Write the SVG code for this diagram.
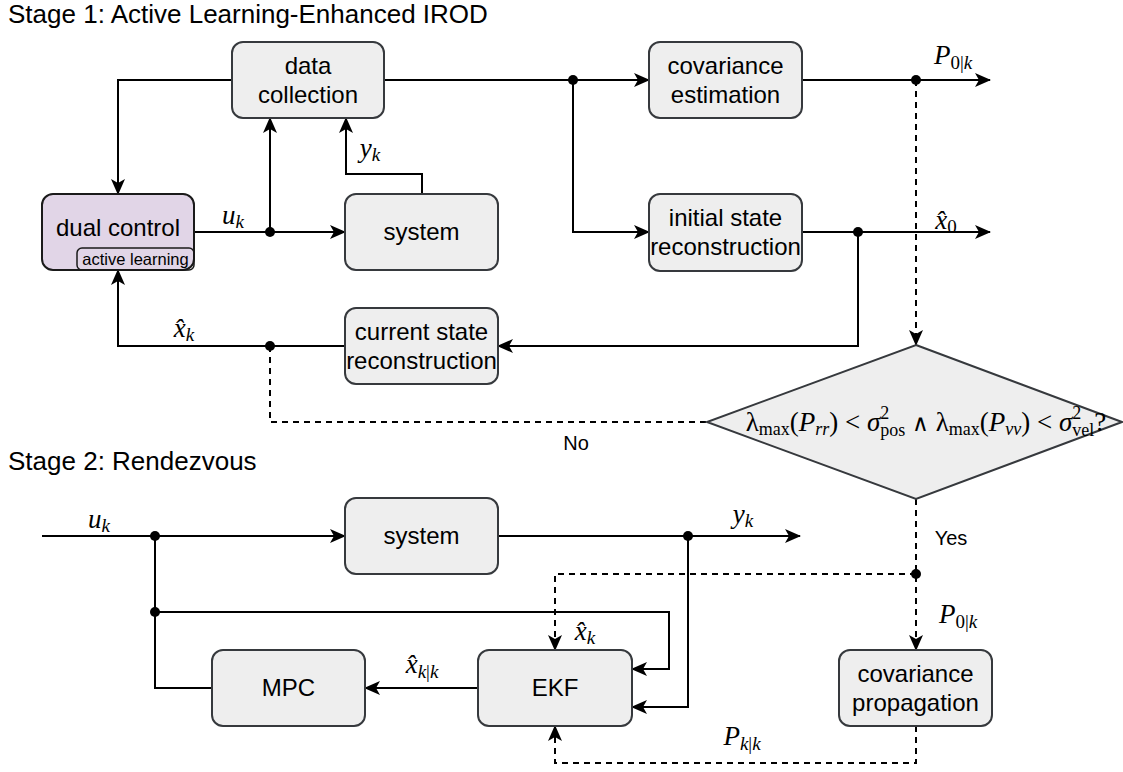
<svg xmlns="http://www.w3.org/2000/svg" width="1123" height="772" viewBox="0 0 1123 772">
  <style>
    .box { fill: #eeeeee; stroke: #36393d; stroke-width: 2; }
    .dual { fill: #e1d5e7; stroke: #1a1a1a; stroke-width: 2; }
    .sub { fill: none; stroke: #1a1a1a; stroke-width: 1.5; }
    .lbl { font-family: "Liberation Sans", Arial, sans-serif; font-size: 24px; fill: #000; text-anchor: middle; }
    .small { font-family: "Liberation Sans", Arial, sans-serif; font-size: 16.5px; fill: #000; text-anchor: middle; }
    .title { font-family: "Liberation Sans", Arial, sans-serif; font-size: 26px; fill: #000; }
    .note { font-family: "Liberation Sans", Arial, sans-serif; font-size: 20px; fill: #000; text-anchor: middle; }
    .math { font-family: "Liberation Serif", "DejaVu Serif", serif; font-size: 27px; fill: #000; text-anchor: middle; }
    .it { font-style: italic; }
    .wire { fill: none; stroke: #000; stroke-width: 2; }
    .dash { fill: none; stroke: #000; stroke-width: 2; stroke-dasharray: 6 5; }
    .dot { fill: #000; }
  </style>
  <defs>
    <marker id="arrow" viewBox="0 0 16 16" refX="15" refY="8" markerWidth="16" markerHeight="16" markerUnits="userSpaceOnUse" orient="auto">
      <path d="M0,1 L16,8 L0,15 L4,8 Z" fill="#000"/>
    </marker>
  </defs>

  <rect width="1123" height="772" fill="#ffffff"/>

  <!-- section titles -->
  <text class="title" x="8" y="23">Stage 1: Active Learning-Enhanced IROD</text>
  <text class="title" x="8" y="470">Stage 2: Rendezvous</text>

  <!-- connectors -->
  <g id="connectors">
    <!-- stage 1 -->
    <path class="wire" d="M232,80 H118 V194" marker-end="url(#arrow)"/>
    <path class="wire" d="M194,232 H345" marker-end="url(#arrow)"/>
    <path class="wire" d="M270,232 V118" marker-end="url(#arrow)"/>
    <path class="wire" d="M422,194 V174 H346 V118" marker-end="url(#arrow)"/>
    <path class="wire" d="M384,80 H649" marker-end="url(#arrow)"/>
    <path class="wire" d="M573,80 V232 H649" marker-end="url(#arrow)"/>
    <path class="wire" d="M802,80 H990" marker-end="url(#arrow)"/>
    <path class="wire" d="M802,232 H990" marker-end="url(#arrow)"/>
    <path class="wire" d="M858,232 V346 H498" marker-end="url(#arrow)"/>
    <path class="wire" d="M345,346 H118 V270" marker-end="url(#arrow)"/>
    <path class="dash" d="M270,346 V422 H707"/>
    <path class="dash" d="M916,80 V345" marker-end="url(#arrow)"/>
    <!-- stage 2 -->
    <path class="dash" d="M916,499 V650" marker-end="url(#arrow)"/>
    <path class="wire" d="M42,536 H345" marker-end="url(#arrow)"/>
    <path class="wire" d="M498,536 H800" marker-end="url(#arrow)"/>
    <path class="wire" d="M155,536 V688 H212"/>
    <path class="wire" d="M155,612 H669 V669 H632" marker-end="url(#arrow)"/>
    <path class="wire" d="M688,536 V707 H632" marker-end="url(#arrow)"/>
    <path class="wire" d="M478,688 H365" marker-end="url(#arrow)"/>
    <path class="dash" d="M916,574 H555 V650" marker-end="url(#arrow)"/>
    <path class="dash" d="M916,726 V763 H555 V726" marker-end="url(#arrow)"/>

    <!-- junction dots -->
    <circle class="dot" cx="270" cy="232" r="5"/>
    <circle class="dot" cx="573" cy="80" r="5"/>
    <circle class="dot" cx="916" cy="80" r="5"/>
    <circle class="dot" cx="858" cy="232" r="5"/>
    <circle class="dot" cx="270" cy="346" r="5"/>
    <circle class="dot" cx="155" cy="536" r="5"/>
    <circle class="dot" cx="155" cy="612" r="5"/>
    <circle class="dot" cx="688" cy="536" r="5"/>
    <circle class="dot" cx="916" cy="574" r="5"/>

    <!-- signal labels -->
    <text class="math it" x="233" y="224">u<tspan font-size="19" dy="4">k</tspan></text>
    <text class="math it" x="370" y="157">y<tspan font-size="19" dy="4">k</tspan></text>
    <text class="math it" x="953" y="64">P<tspan font-size="19" dy="5" font-style="normal">0|</tspan><tspan font-size="19">k</tspan></text>
    <text class="math it" x="946" y="229">x̂<tspan font-size="19" dy="4" font-style="normal">0</tspan></text>
    <text class="math it" x="184" y="337">x̂<tspan font-size="19" dy="4">k</tspan></text>
    <text class="note" x="576" y="450">No</text>
    <text class="note" x="951" y="545">Yes</text>
    <text class="math it" x="99" y="528">u<tspan font-size="19" dy="4">k</tspan></text>
    <text class="math it" x="743" y="523">y<tspan font-size="19" dy="4">k</tspan></text>
    <text class="math it" x="585" y="640">x̂<tspan font-size="19" dy="4">k</tspan></text>
    <text class="math it" x="958" y="623">P<tspan font-size="19" dy="5" font-style="normal">0|</tspan><tspan font-size="19">k</tspan></text>
    <text class="math it" x="422" y="673">x̂<tspan font-size="19" dy="5">k</tspan><tspan font-size="19" font-style="normal">|</tspan><tspan font-size="19">k</tspan></text>
    <text class="math it" x="742" y="745">P<tspan font-size="19" dy="5">k</tspan><tspan font-size="19" font-style="normal">|</tspan><tspan font-size="19">k</tspan></text>
  </g>

  <!-- stage 1 nodes -->
  <g id="data-collection">
    <rect class="box" x="232" y="42" width="152" height="76" rx="11"/>
    <text class="lbl" x="308" y="74">data</text>
    <text class="lbl" x="308" y="103">collection</text>
  </g>
  <g id="dual-control">
    <rect class="dual" x="42" y="194" width="152" height="76" rx="11"/>
    <text class="lbl" x="118" y="236">dual control</text>
    <rect class="sub" x="77" y="248" width="117" height="22" rx="5"/>
    <text class="small" x="135.5" y="265">active learning</text>
  </g>
  <g id="system-1">
    <rect class="box" x="345" y="194" width="153" height="76" rx="11"/>
    <text class="lbl" x="421.5" y="240">system</text>
  </g>
  <g id="covariance-estimation">
    <rect class="box" x="649" y="42" width="153" height="76" rx="11"/>
    <text class="lbl" x="725.5" y="74">covariance</text>
    <text class="lbl" x="725.5" y="103">estimation</text>
  </g>
  <g id="initial-state-reconstruction">
    <rect class="box" x="649" y="194" width="153" height="77" rx="11"/>
    <text class="lbl" x="725.5" y="226">initial state</text>
    <text class="lbl" x="725.5" y="255">reconstruction</text>
  </g>
  <g id="current-state-reconstruction">
    <rect class="box" x="345" y="308" width="153" height="76" rx="11"/>
    <text class="lbl" x="421.5" y="340">current state</text>
    <text class="lbl" x="421.5" y="369">reconstruction</text>
  </g>
  <g id="convergence-check">
    <polygon class="box" points="916,345 1122,422 916,499 707,422"/>
    <text class="math" x="926" y="431" font-size="28"><tspan>λ</tspan><tspan font-size="18" dy="4">max</tspan><tspan dy="-4">(</tspan><tspan class="it">P</tspan><tspan class="it" font-size="18" dy="4">rr</tspan><tspan dy="-4">) &lt; </tspan><tspan class="it">σ</tspan><tspan font-size="18" dy="-12">2</tspan><tspan font-size="18" dx="-9" dy="17">pos</tspan><tspan dy="-5"> </tspan><tspan font-family="DejaVu Serif, serif" font-size="23">∧</tspan><tspan> λ</tspan><tspan font-size="18" dy="4">max</tspan><tspan dy="-4">(</tspan><tspan class="it">P</tspan><tspan class="it" font-size="18" dy="4">vv</tspan><tspan dy="-4">) &lt; </tspan><tspan class="it">σ</tspan><tspan font-size="18" dy="-12">2</tspan><tspan font-size="18" dx="-9" dy="17">vel</tspan><tspan dy="-5">?</tspan></text>
  </g>

  <!-- stage 2 nodes -->
  <g id="system-2">
    <rect class="box" x="345" y="498" width="153" height="76" rx="11"/>
    <text class="lbl" x="421.5" y="544">system</text>
  </g>
  <g id="mpc">
    <rect class="box" x="212" y="650" width="153" height="76" rx="11"/>
    <text class="lbl" x="288.5" y="696">MPC</text>
  </g>
  <g id="ekf">
    <rect class="box" x="478" y="650" width="154" height="76" rx="11"/>
    <text class="lbl" x="555" y="696">EKF</text>
  </g>
  <g id="covariance-propagation">
    <rect class="box" x="839" y="650" width="153" height="76" rx="11"/>
    <text class="lbl" x="915.5" y="682">covariance</text>
    <text class="lbl" x="915.5" y="711">propagation</text>
  </g>
</svg>
